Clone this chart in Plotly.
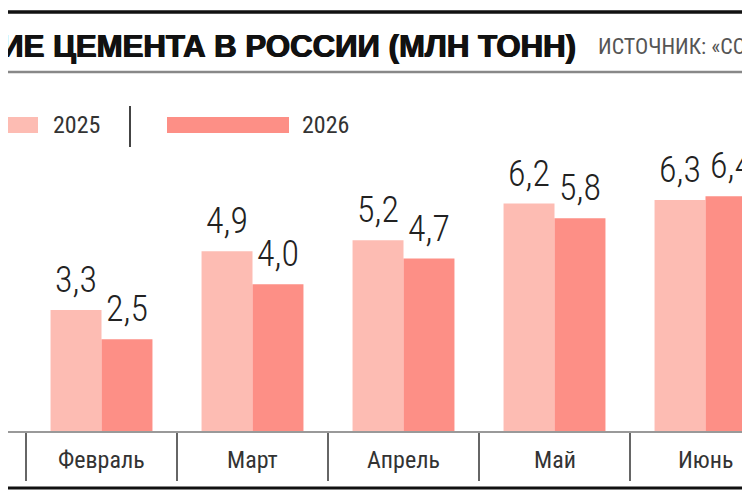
import plotly.graph_objects as go

# Cement consumption in Russia, mln tonnes
months = ["Январь", "Февраль", "Март", "Апрель", "Май", "Июнь"]
y2025 = [2.2, 3.3, 4.9, 5.2, 6.2, 6.3]
y2026 = [1.7, 2.5, 4.0, 4.7, 5.8, 6.4]
series_names = ["2025", "2026"]

title = "ПОТРЕБЛЕНИЕ ЦЕМЕНТА В РОССИИ (МЛН ТОНН)"
source = "ИСТОЧНИК: «СОЮЗЦЕМЕНТ»"

light = "#fdbcb3"
dark = "#fd8f86"
cond = "Roboto Condensed, DejaVu Sans Condensed, sans-serif"

W, H = 750, 500
OFF = 8               # the page puts the figure 8px in from the corner
top, base = 150 - OFF, 431 - OFF  # plot area in figure pixels
cat_px = 151          # width of one month group
bargap = 0.325
bar_px = cat_px * (1 - bargap) / 2


# helpers: window pixel -> paper coordinate
def px(x):
    return (x - OFF) / W


def py(y):
    return (base - (y - OFF)) / (base - top)


fig = go.Figure()
for name, vals, col in [(series_names[0], y2025, light), (series_names[1], y2026, dark)]:
    fig.add_trace(go.Bar(x=months, y=vals, name=name, marker_color=col,
                         marker_line_width=0, showlegend=False))

first = (49.5 + OFF) / cat_px
fig.update_layout(
    width=W, height=H,
    margin=dict(l=0, r=0, t=top, b=H - base, autoexpand=False),
    paper_bgcolor="white", plot_bgcolor="white",
    barmode="group", bargap=bargap, bargroupgap=0,
    showlegend=False,
)
fig.update_xaxes(
    range=[first, first + W / cat_px], automargin=False,
    showline=True, linecolor="#999", linewidth=1.5,
    ticks="outside", tickson="boundaries", ticklen=48, tickwidth=2, tickcolor="#666",
    showticklabels=False, showgrid=False, zeroline=False,
)
fig.update_yaxes(visible=False, range=[0, 7.66], automargin=False,
                 showgrid=False, zeroline=False)

# month names under the axis
for m in months:
    fig.add_annotation(text=m, x=m, y=0, yshift=-29, yanchor="middle", showarrow=False,
                       font=dict(family=cond, size=24, color="#333"))

# value labels above each bar
for vals, shift in [(y2025, -bar_px / 2), (y2026, bar_px / 2)]:
    for m, v in zip(months, vals):
        fig.add_annotation(text=f"{v:.1f}".replace(".", ","), x=m, y=v, xshift=shift,
                           yshift=7, yanchor="bottom", showarrow=False,
                           font=dict(family=cond, size=36, color="#222", weight=300))

# header rules and bottom rule
fig.add_shape(type="line", xref="paper", yref="paper", x0=-0.05, x1=1.05,
              y0=py(12), y1=py(12), line=dict(color="#111", width=3.5))
fig.add_shape(type="line", xref="paper", yref="paper", x0=-0.05, x1=1.05,
              y0=py(72), y1=py(72), line=dict(color="#888", width=2.5))
fig.add_shape(type="line", xref="paper", yref="paper", x0=-0.05, x1=1.05,
              y0=py(488), y1=py(488), line=dict(color="#111", width=3))

fig.add_annotation(text=title, xref="paper", yref="paper", x=px(578), y=py(46),
                   xanchor="right", yanchor="middle", showarrow=False,
                   font=dict(family="Liberation Sans, Arial, sans-serif", size=31.2,
                             color="#111", weight="bold",
                             shadow="0.6px 0 0 #111, -0.6px 0 0 #111"))
fig.add_annotation(text=source, xref="paper", yref="paper", x=px(596), y=py(46),
                   xanchor="left", yanchor="middle", showarrow=False,
                   font=dict(family=cond, size=22, color="#555"))

# legend: long swatches, labels, divider
fig.add_shape(type="rect", xref="paper", yref="paper", x0=px(-84), x1=px(38),
              y0=py(133), y1=py(117), fillcolor=light, line_width=0)
fig.add_shape(type="rect", xref="paper", yref="paper", x0=px(167), x1=px(289),
              y0=py(133), y1=py(117), fillcolor=dark, line_width=0)
fig.add_shape(type="line", xref="paper", yref="paper", x0=px(130), x1=px(130),
              y0=py(106), y1=py(147), line=dict(color="#444", width=2))
for name, x in [(series_names[0], 51), (series_names[1], 300)]:
    fig.add_annotation(text=name, xref="paper", yref="paper", x=px(x), y=py(125),
                       xanchor="left", yanchor="middle", showarrow=False,
                       font=dict(family=cond, size=24, color="#333"))

fig.write_html("out.html")
